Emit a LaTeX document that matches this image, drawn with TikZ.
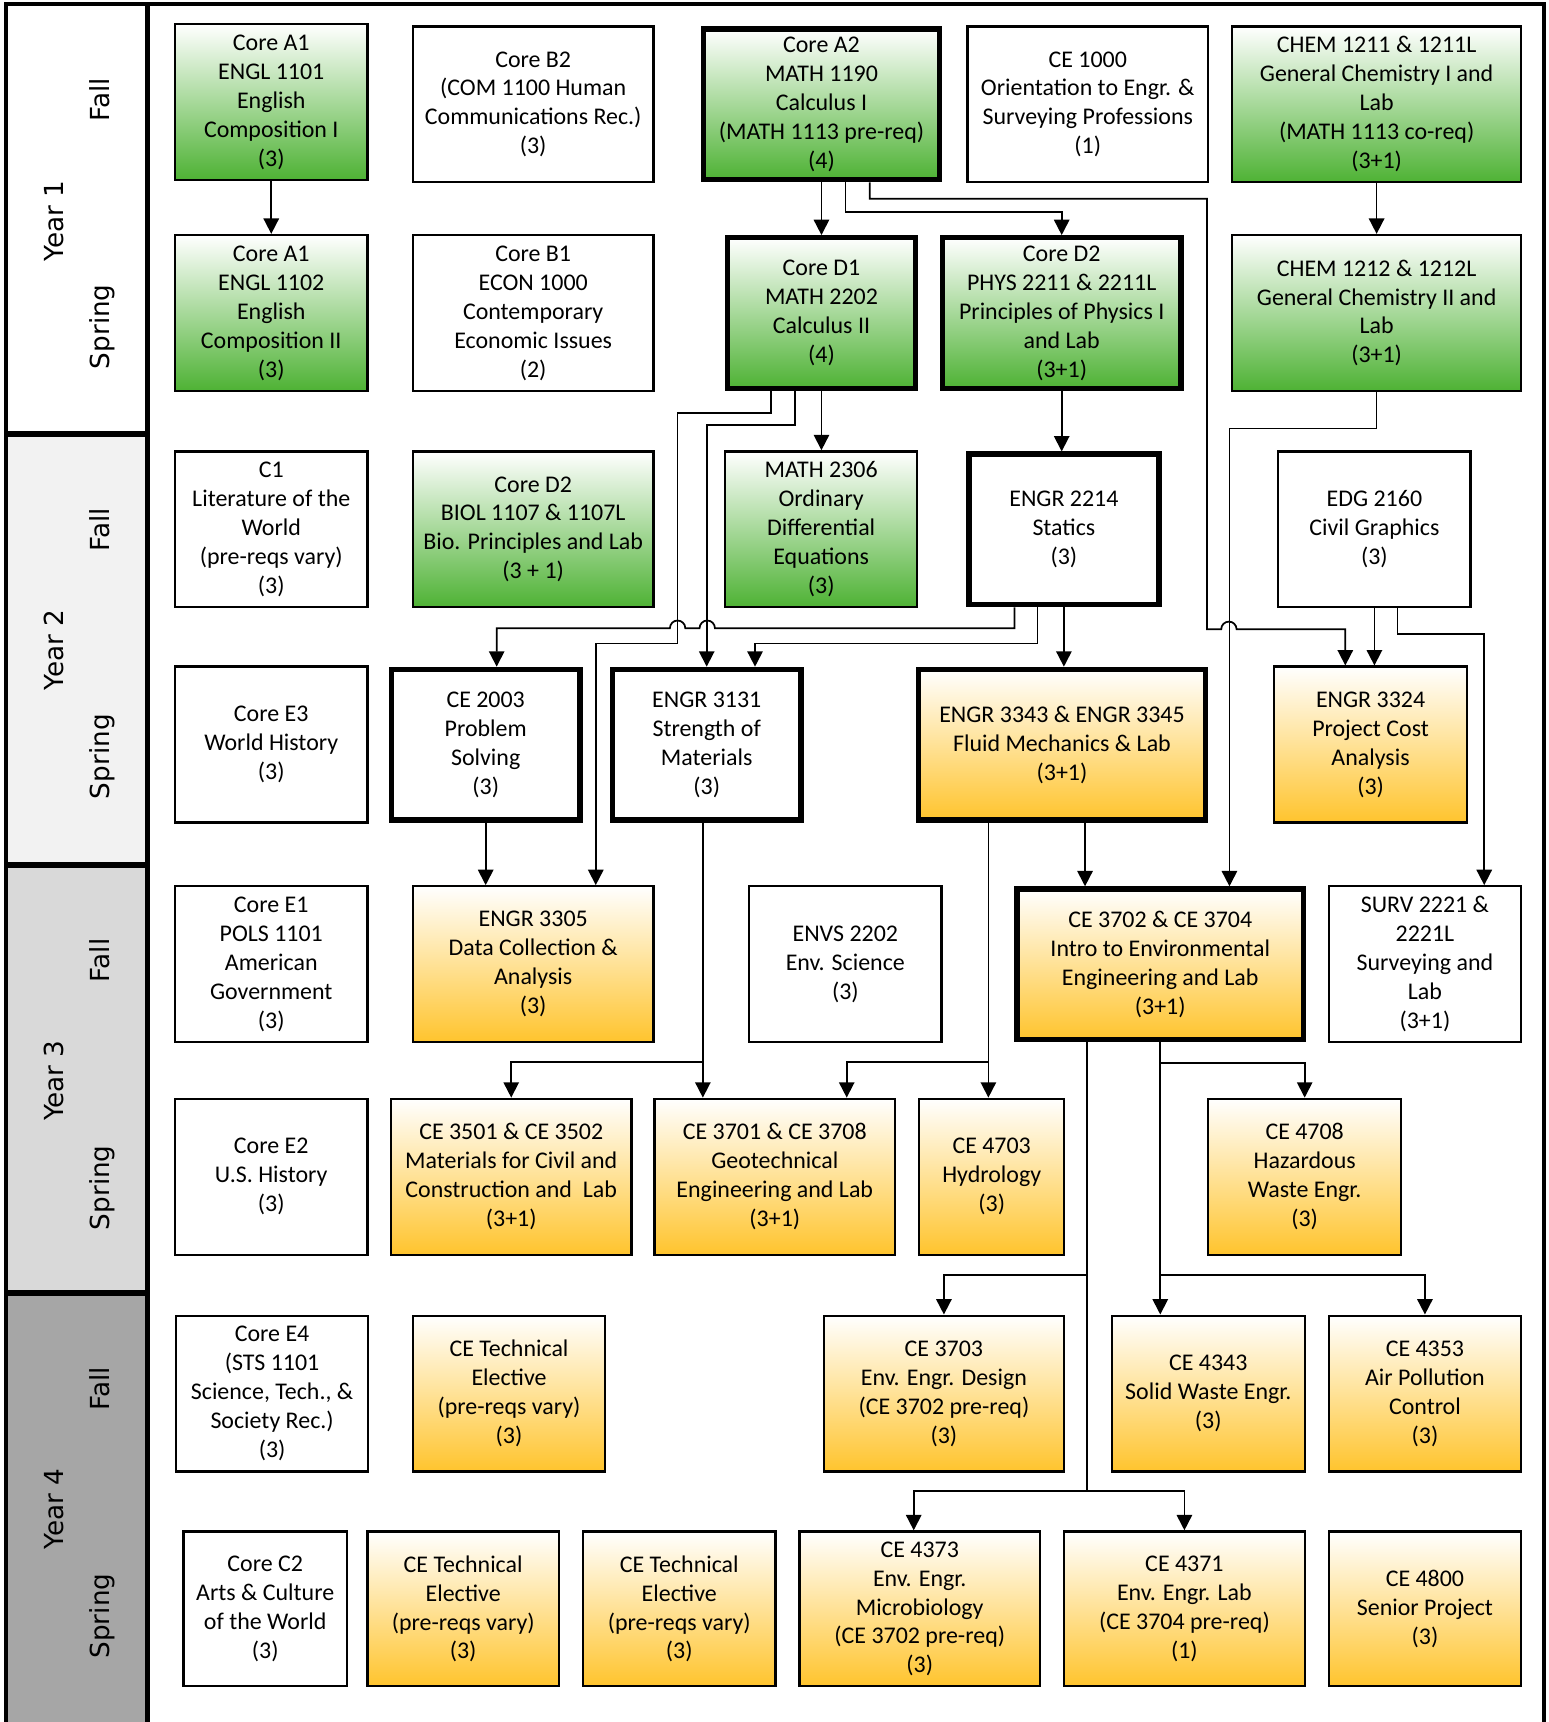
\documentclass[tikz,border=0pt]{standalone}
\usepackage{fontspec}
\newfontfamily\boxfont{Carlito}
\newfontfamily\sidefont{DejaVu Sans}
\usetikzlibrary{arrows.meta}
\tikzset{>={Triangle[length=1.4mm,width=1.4mm]}}
\definecolor{grnc}{RGB}{78,178,52}
\definecolor{goldc}{RGB}{255,196,45}
\definecolor{yrb}{RGB}{242,242,242}
\definecolor{yrc}{RGB}{217,217,217}
\definecolor{yrd}{RGB}{166,166,166}
\tikzset{
  course/.style={draw, line width=0.6pt, align=center, inner sep=1pt, minimum height=14.2mm,
    font=\boxfont\fontsize{6.2}{7.5}\selectfont},
  heavy/.style={line width=1.4pt, minimum height=13.7mm},
  grn/.style={top color=white, bottom color=grnc},
  gold/.style={top color=white, bottom color=goldc},
  wire/.style={->, line width=0.45pt},
  term/.style={rotate=90, anchor=base, font=\sidefont\fontsize{6.8}{8}\selectfont},
}

\begin{document}
\begin{tikzpicture}[x=0.1mm, y=-0.1mm]
    \useasboundingbox (0,0) rectangle (1410,1568);
    \fill[yrb] (5.5,395.5) rectangle (134.6,787.5);
    \fill[yrc] (5.5,787.5) rectangle (134.6,1177.5);
    \fill[yrd] (5.5,1177.5) rectangle (134.6,1568);
    \draw[line width=1pt] (5.5,1568) -- (5.5,3.6) -- (1406,3.6) -- (1406,1568);
    \draw[line width=1.3pt] (134.6,3.6) -- (134.6,1568);
    \draw[line width=1.5pt] (5.5,395.5) -- (134.6,395.5);
    \draw[line width=1.5pt] (5.5,787.5) -- (134.6,787.5);
    \draw[line width=1.5pt] (5.5,1177.5) -- (134.6,1177.5);

    \node[term] (yra) at (58,201) {Year 1};
    \node[term] (fa) at (100,91) {Fall};
    \node[term] (sa) at (100,297.5) {Spring};
    \node[term] (yrb) at (58,592) {Year 2};
    \node[term] (fb) at (100,482.5) {Fall};
    \node[term] (sb) at (100,689) {Spring};
    \node[term] (yrc) at (58,984) {Year 3};
    \node[term] (fc) at (100,874.5) {Fall};
    \node[term] (sc) at (100,1081.5) {Spring};
    \node[term] (yrd) at (58,1374) {Year 4};
    \node[term] (fd) at (100,1264.5) {Fall};
    \node[term] (sd) at (100,1471.5) {Spring};

    \node[course, grn, minimum width=17.5mm] (engla) at (247,93) {Core A1\\ENGL 1101\\English\\Composition I\\(3)};
    \node[course, minimum width=21.9mm] (comm) at (485.5,95) {Core B2\\(COM 1100 Human\\Communications Rec.)\\(3)};
    \node[course, heavy, grn, minimum width=21.5mm] (calca) at (748,95) {Core A2\\MATH 1190\\Calculus I\\(MATH 1113 pre-req)\\(4)};
    \node[course, minimum width=21.9mm] (orient) at (990.5,95) {CE 1000\\Orientation to Engr. \&\\Surveying Professions\\(1)};
    \node[course, grn, minimum width=26.3mm] (chema) at (1253.5,95) {CHEM 1211 \& 1211L\\General Chemistry I and\\Lab\\(MATH 1113 co-req)\\(3+1)};

    \node[course, grn, minimum width=17.5mm] (englb) at (247,285) {Core A1\\ENGL 1102\\English\\Composition II\\(3)};
    \node[course, minimum width=21.9mm] (econ) at (485.5,285) {Core B1\\ECON 1000\\Contemporary\\Economic Issues\\(2)};
    \node[course, heavy, grn, minimum width=17.1mm] (calcb) at (748,285) {Core D1\\MATH 2202\\Calculus II\\(4)};
    \node[course, heavy, grn, minimum width=21.7mm] (phys) at (966.75,285) {Core D2\\PHYS 2211 \& 2211L\\Principles of Physics I\\and Lab\\(3+1)};
    \node[course, grn, minimum width=26.3mm] (chemb) at (1253.5,285) {CHEM 1212 \& 1212L\\General Chemistry II and\\Lab\\(3+1)};

    \node[course, minimum width=17.5mm] (lit) at (247,482) {C1\\Literature of the\\World\\(pre-reqs vary)\\(3)};
    \node[course, grn, minimum width=21.9mm] (biol) at (485.5,482) {Core D2\\BIOL 1107 \& 1107L\\Bio. Principles and Lab\\(3 + 1)};
    \node[course, grn, minimum width=17.5mm] (ode) at (747.75,482) {MATH 2306\\Ordinary\\Differential\\Equations\\(3)};
    \node[course, heavy, minimum width=17.3mm] (stat) at (968.75,482) {ENGR 2214\\Statics\\(3)};
    \node[course, minimum width=17.5mm] (edg) at (1251.5,482) {EDG 2160\\Civil Graphics\\(3)};

    \node[course, minimum width=17.5mm] (world) at (247,678) {Core E3\\World History\\(3)};
    \node[course, heavy, minimum width=17.2mm] (prob) at (442.25,678) {CE 2003\\Problem\\Solving\\(3)};
    \node[course, heavy, minimum width=17.2mm] (matl) at (643.5,678) {ENGR 3131\\Strength of\\Materials\\(3)};
    \node[course, heavy, gold, minimum width=26.1mm] (fluid) at (967,678) {ENGR 3343 \& ENGR 3345\\Fluid Mechanics \& Lab\\(3+1)};
    \node[course, gold, minimum width=17.6mm] (cost) at (1248,678) {ENGR 3324\\Project Cost\\Analysis\\(3)};

    \node[course, minimum width=17.5mm] (pols) at (247,878) {Core E1\\POLS 1101\\American\\Government\\(3)};
    \node[course, gold, minimum width=21.9mm] (data) at (485.5,878) {ENGR 3305\\Data Collection \&\\Analysis\\(3)};
    \node[course, minimum width=17.5mm] (envs) at (769.75,878) {ENVS 2202\\Env. Science\\(3)};
    \node[course, heavy, gold, minimum width=26.1mm] (envi) at (1056.5,878) {CE 3702 \& CE 3704\\Intro to Environmental\\Engineering and Lab\\(3+1)};
    \node[course, minimum width=17.5mm] (surv) at (1297.5,878) {SURV 2221 \&\\2221L\\Surveying and\\Lab\\(3+1)};

    \node[course, minimum width=17.5mm] (ushist) at (247,1071.5) {Core E2\\U.S. History\\(3)};
    \node[course, gold, minimum width=21.9mm] (mat) at (465.5,1071.5) {CE 3501 \& CE 3502\\Materials for Civil and\\Construction and~ Lab\\(3+1)};
    \node[course, gold, minimum width=21.9mm] (geo) at (705.5,1071.5) {CE 3701 \& CE 3708\\Geotechnical\\Engineering and Lab\\(3+1)};
    \node[course, gold, minimum width=13.2mm] (hyd) at (903,1071.5) {CE 4703\\Hydrology\\(3)};
    \node[course, gold, minimum width=17.6mm] (haz) at (1188,1071.5) {CE 4708\\Hazardous\\Waste Engr.\\(3)};

    \node[course, minimum width=17.45mm] (sts) at (247.75,1269) {Core E4\\(STS 1101\\Science, Tech., \&\\Society Rec.)\\(3)};
    \node[course, gold, minimum width=17.5mm] (techa) at (463.5,1269) {CE Technical\\Elective\\(pre-reqs vary)\\(3)};
    \node[course, gold, minimum width=21.9mm] (des) at (859.5,1269) {CE 3703\\Env. Engr. Design\\(CE 3702 pre-req)\\(3)};
    \node[course, gold, minimum width=17.55mm] (solid) at (1100.25,1269) {CE 4343\\Solid Waste Engr.\\(3)};
    \node[course, gold, minimum width=17.5mm] (air) at (1297.5,1269) {CE 4353\\Air Pollution\\Control\\(3)};

    \node[course, minimum width=14.9mm, minimum height=14.1mm] (arts) at (241.5,1465) {Core C2\\Arts \& Culture\\of the World\\(3)};
    \node[course, gold, minimum width=17.45mm, minimum height=14.1mm] (techb) at (421.75,1465) {CE Technical\\Elective\\(pre-reqs vary)\\(3)};
    \node[course, gold, minimum width=17.5mm, minimum height=14.1mm] (techc) at (618.5,1465) {CE Technical\\Elective\\(pre-reqs vary)\\(3)};
    \node[course, gold, minimum width=21.9mm, minimum height=14.1mm] (micro) at (837.5,1465) {CE 4373\\Env. Engr.\\Microbiology\\(CE 3702 pre-req)\\(3)};
    \node[course, gold, minimum width=21.9mm, minimum height=14.1mm] (lab) at (1078.5,1465) {CE 4371\\Env. Engr. Lab\\(CE 3704 pre-req)\\(1)};
    \node[course, gold, minimum width=17.5mm, minimum height=14.1mm] (senior) at (1297.5,1465) {CE 4800\\Senior Project\\(3)};

    \draw[wire] (engla.south) -- (englb.north);
    \draw[wire] (chema.south) -- (chemb.north);
    \draw[wire] (calca.south) -- (calcb.north);
    \draw[wire] ([xshift=2.2mm]calca.south) -- ++(0,27) -| (phys.north);
    \draw[wire] ([xshift=4.4mm]calca.south) -- ++(0,15) -| (1099,573) -- (1112,573)
        arc[start angle=180, end angle=0, radius=0.7mm] -| ([xshift=-2.3mm]cost.north);
    \draw[wire] (chemb.south) -- ++(0,33) -| ([xshift=6.3mm]envi.north);
    \draw[wire] (calcb.south) -- (calcb.south |- ode.north);
    \draw[wire] ([xshift=-4.6mm]calcb.south) -- ++(0,20) -| (617,586) -| ([xshift=5.7mm]data.north);
    \draw[wire] ([xshift=-2.4mm]calcb.south) -- ++(0,31) -| (matl.north);
    \draw[wire] (phys.south) -- (phys.south |- stat.north);
    \draw[wire] ([xshift=-4.5mm]stat.south) |- (651,572)
        arc[start angle=0, end angle=180, radius=0.7mm] -- (624,572)
        arc[start angle=0, end angle=180, radius=0.7mm] -| ([xshift=1mm]prob.north);
    \draw[wire] ([xshift=-2.4mm]stat.south) -- ++(0,33) -| ([xshift=4.4mm]matl.north);
    \draw[wire] (stat.south) -- (stat.south |- fluid.north);
    \draw[wire] (edg.south) -- (edg.south |- cost.north);
    \draw[wire] ([xshift=2.1mm]edg.south) -- ++(0,23) -| ([xshift=5.4mm]surv.north);
    \draw[wire] (prob.south) -- (prob.south |- data.north);
    \draw[wire] ([xshift=-0.35mm]matl.south) -- ([xshift=-0.35mm]matl.south |- geo.north);
    \draw[wire] ([xshift=-0.35mm]matl.south) -- ++(0,218) -| (mat.north);
    \draw[wire] ([xshift=-6.7mm]fluid.south) -- ([xshift=-6.7mm]fluid.south |- hyd.north);
    \draw[wire] ([xshift=-6.7mm]fluid.south) -- ++(0,218) -| ([xshift=6.55mm]geo.north);
    \draw[wire] ([xshift=2.1mm]fluid.south) -- ([xshift=2.1mm]fluid.south |- envi.north);
    \draw[wire] (envi.south) -- ++(0,19) -| (haz.north);
    \draw[wire] (envi.south) -- ++(0,212) -| (air.north);
    \draw[wire] (envi.south) -- (envi.south |- solid.north);
    \draw[wire] ([xshift=-6.65mm]envi.south) -- ++(0,212) -| (des.north);
    \draw[wire] ([xshift=-6.65mm]envi.south) -- ++(0,409) -| ([xshift=-0.55mm]micro.north);
    \draw[wire] ([xshift=-6.65mm]envi.south) -- ++(0,409) -| (lab.north);
\end{tikzpicture}
\end{document}
